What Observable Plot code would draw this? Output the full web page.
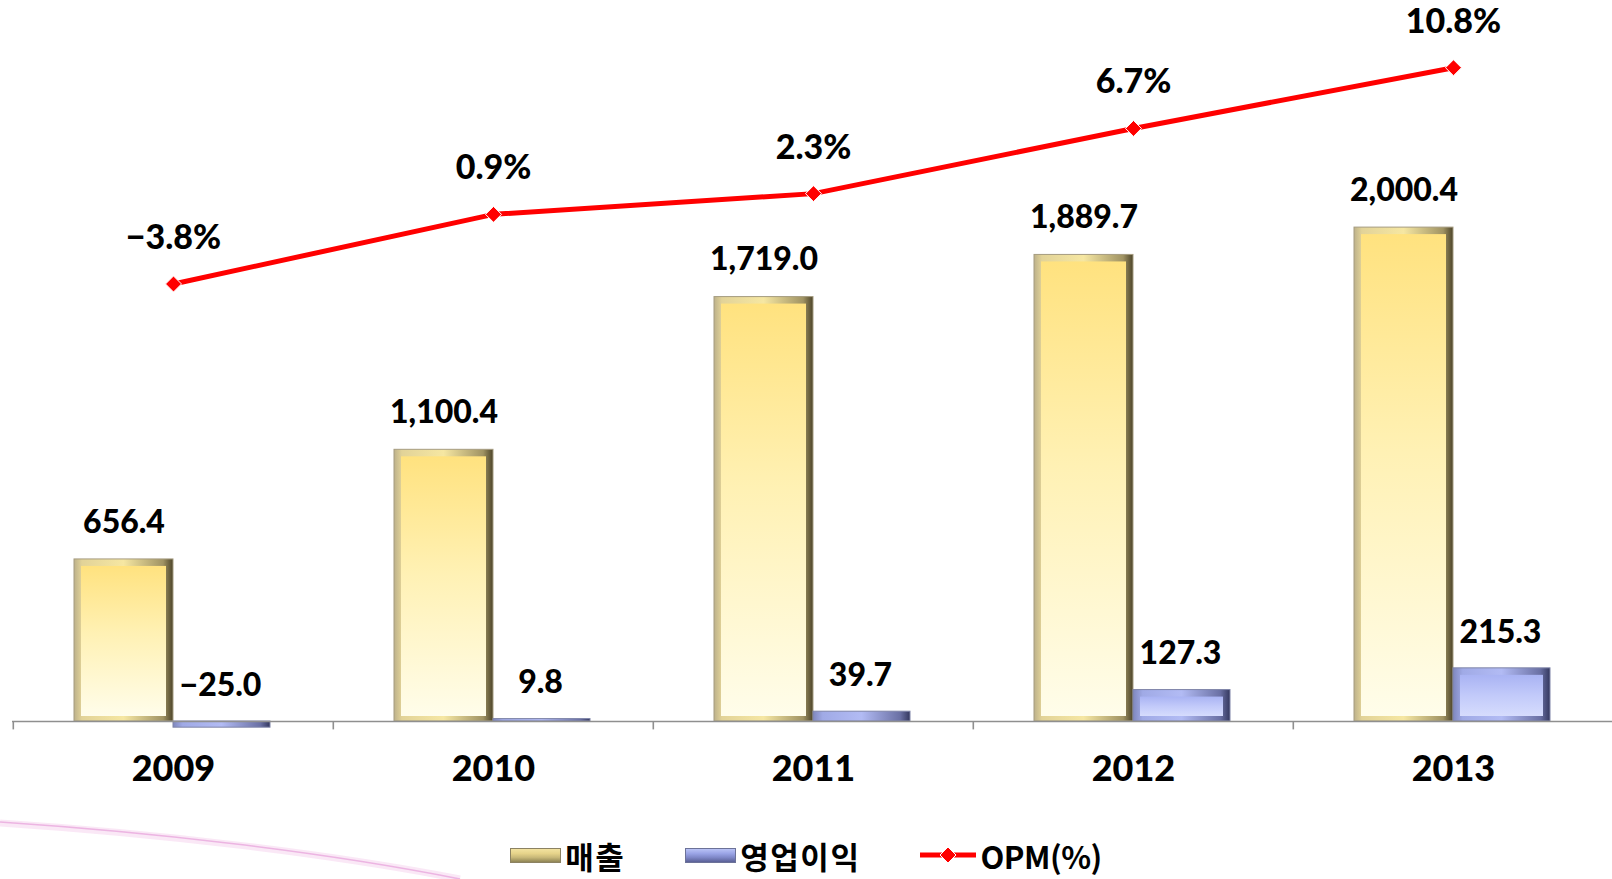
<!DOCTYPE html>
<html>
<head>
<meta charset="utf-8">
<script src="https://cdn.jsdelivr.net/npm/d3@7"></script>
<script src="https://cdn.jsdelivr.net/npm/@observablehq/plot@0.6"></script>
<style>
  html, body { margin: 0; padding: 0; background: #fff; width: 1612px; height: 879px; overflow: hidden; }
  #wrap { position: relative; width: 1612px; height: 879px; }
  #swoosh { position: absolute; left: 0; top: 0; pointer-events: none; }
  #chart { position: absolute; left: 0; top: 0; }
  #legend { position: absolute; left: 0; top: 837px; width: 1612px; height: 36px;
    display: flex; justify-content: center; align-items: center; gap: 60px;
    font-family: "Noto Sans CJK KR", "Noto Sans", sans-serif; font-weight: 700; font-size: 31px; line-height: 1; color: #000; }
  .item { display: flex; align-items: center; gap: 4px; letter-spacing: 1.5px; line-height: 1; }
  .item span { line-height: 1; display: block; }
  .item.latin { letter-spacing: -0.5px; }
  .sw { width: 51px; height: 15px; box-sizing: border-box; }
</style>
</head>
<body>
<div id="wrap">
  <svg id="swoosh" width="1612" height="879">
    <path d="M0,823 C150,833 320,852 460,879" fill="none" stroke="#f6d8f0" stroke-width="7" opacity="0.6"/>
    <path d="M0,822 C150,832 320,851 460,879" fill="none" stroke="#e9a8dd" stroke-width="1.6" opacity="0.8"/>
  </svg>
  <div id="chart"></div>
  <div id="legend"></div>
</div>
<script>
// ---- data ----
const years = ["2009", "2010", "2011", "2012", "2013"];
const sales = [656.4, 1100.4, 1719.0, 1889.7, 2000.4];          // 매출
const opProfit = [-25.0, 9.8, 39.7, 127.3, 215.3];             // 영업이익
const opm = [-3.8, 0.9, 2.3, 6.7, 10.8];                        // OPM(%)
const seriesNames = ["매출", "영업이익", "OPM(%)"];

const data = years.map((year, i) => ({ year, sales: sales[i], op: opProfit[i], opm: opm[i] }));

// secondary axis (OPM %) mapped onto the primary value axis
const opmY = d3.scaleLinear().domain([0, 10]).range([2000, 2600]);

const fmtVal = d3.format(",.1f");
const fmtPct = d => d3.format(".1f")(d) + "%";

const font = "Lato, 'Open Sans', sans-serif";

const svg = Plot.plot({
  width: 1612,
  height: 836,
  marginLeft: 12,
  marginRight: 0,
  marginTop: 0,
  marginBottom: 115,
  x: { domain: years, range: [12, 1614], padding: 0, axis: null },
  y: { domain: [0, 2000], range: [721, 227.2], axis: null },
  style: { fontFamily: font, background: "transparent", overflow: "visible" },
  marks: [
    // 매출 bars (bevel: outer edge + inner face)
    Plot.barY(data, { x: "year", y: "sales", insetLeft: 61, insetRight: 160, fill: "url(#yEdge)", stroke: "#a59c80", strokeWidth: 1 }),
    Plot.barY(data, { x: "year", y: "sales", insetLeft: 68, insetRight: 167, insetTop: 7, insetBottom: 5, fill: "url(#yFace)" }),
    // 영업이익 bars
    Plot.barY(data, { x: "year", y: "op", insetLeft: 160, insetRight: 63, fill: "url(#bEdge)", stroke: "#7e84a8", strokeWidth: 1 }),
    Plot.barY(data.filter(d => d.op > 20), { x: "year", y: "op", insetLeft: 167, insetRight: 70, insetTop: 7, insetBottom: 5, fill: "url(#bFace)" }),
    // category axis line and separator ticks
    Plot.ruleY([0], { stroke: "#8f8f8f", strokeWidth: 1.6 }),
    Plot.ruleX(years, { x: d => d, dx: -160.2, y1: 0, y2: -34, stroke: "#8f8f8f", strokeWidth: 1.6 }),
    // year labels
    Plot.text(years, { x: d => d, y: 0, dy: 48, text: d => d, fontSize: 36, fontWeight: 900, fill: "#000", lineAnchor: "middle", letterSpacing: "1px" }),
    // OPM line + markers
    Plot.line(data, { x: "year", y: d => opmY(d.opm), stroke: "#ff0000", strokeWidth: 5 }),
    Plot.dot(data, { x: "year", y: d => opmY(d.opm), symbol: "diamond2", r: 7.2, fill: "#ff0000", stroke: "#ffffff", strokeWidth: 1 }),
    // value labels
    Plot.text(data, { x: "year", y: "sales", dx: -49.5, dy: -37, text: d => fmtVal(d.sales), fontSize: 32, fontWeight: 900, fill: "#000", lineAnchor: "middle", letterSpacing: "-1px" }),
    Plot.text(data, { x: "year", y: d => Math.max(0, d.op), dx: 47, dy: -36, text: d => fmtVal(d.op), fontSize: 32, fontWeight: 900, fill: "#000", lineAnchor: "middle", letterSpacing: "-1px" }),
    Plot.text(data, { x: "year", y: d => opmY(d.opm), dy: -46, text: d => fmtPct(d.opm), fontSize: 34, fontWeight: 900, fill: "#000", lineAnchor: "middle", letterSpacing: "-1px" })
  ]
});

// gradients for the bevelled bars
const defs = d3.select(svg).insert("defs", ":first-child");
function grad(id, horizontal, stops) {
  const g = defs.append("linearGradient").attr("id", id)
    .attr("x1", 0).attr("y1", 0).attr("x2", horizontal ? 1 : 0).attr("y2", horizontal ? 0 : 1);
  stops.forEach(([o, c]) => g.append("stop").attr("offset", o).attr("stop-color", c));
}
grad("yEdge", true, [[0, "#bdb18a"], [0.08, "#e2d398"], [0.5, "#f6e7a2"], [0.9, "#a09363"], [1, "#4c4429"]]);
grad("yFace", false, [[0, "#ffe27f"], [0.45, "#fff1b4"], [1, "#fffdea"]]);
grad("bEdge", true, [[0, "#7f87bd"], [0.1, "#a0aae6"], [0.5, "#b2bbf4"], [0.9, "#6a70a4"], [1, "#33375e"]]);
grad("bFace", false, [[0, "#a9b3f3"], [0.5, "#c2cafa"], [1, "#d6dcfd"]]);

document.getElementById("chart").appendChild(svg);

// legend
const legend = d3.select("#legend");
const swatchStyles = [
  "background: linear-gradient(to bottom, #f2e2a0 0%, #e6d38a 35%, #c8b878 65%, #8f8455 100%); border: 1px solid #8c8262;",
  "background: linear-gradient(to bottom, #b9c2f5 0%, #9aa4e6 35%, #7f88c8 65%, #5a6096 100%); border: 1px solid #6c7298;"
];
seriesNames.forEach((name, i) => {
  const item = legend.append("div").attr("class", i < 2 ? "item" : "item latin");
  if (i < 2) {
    item.append("div").attr("class", "sw").attr("style", swatchStyles[i]);
  } else {
    item.append("svg").attr("width", 56).attr("height", 20)
      .html('<line x1="0" y1="10" x2="56" y2="10" stroke="#ff0000" stroke-width="5"/><path d="M28,2 L36,10 L28,18 L20,10 Z" fill="#ff0000" stroke="#fff" stroke-width="1"/>');
  }
  item.append("span").text(name);
});
</script>
</body>
</html>
